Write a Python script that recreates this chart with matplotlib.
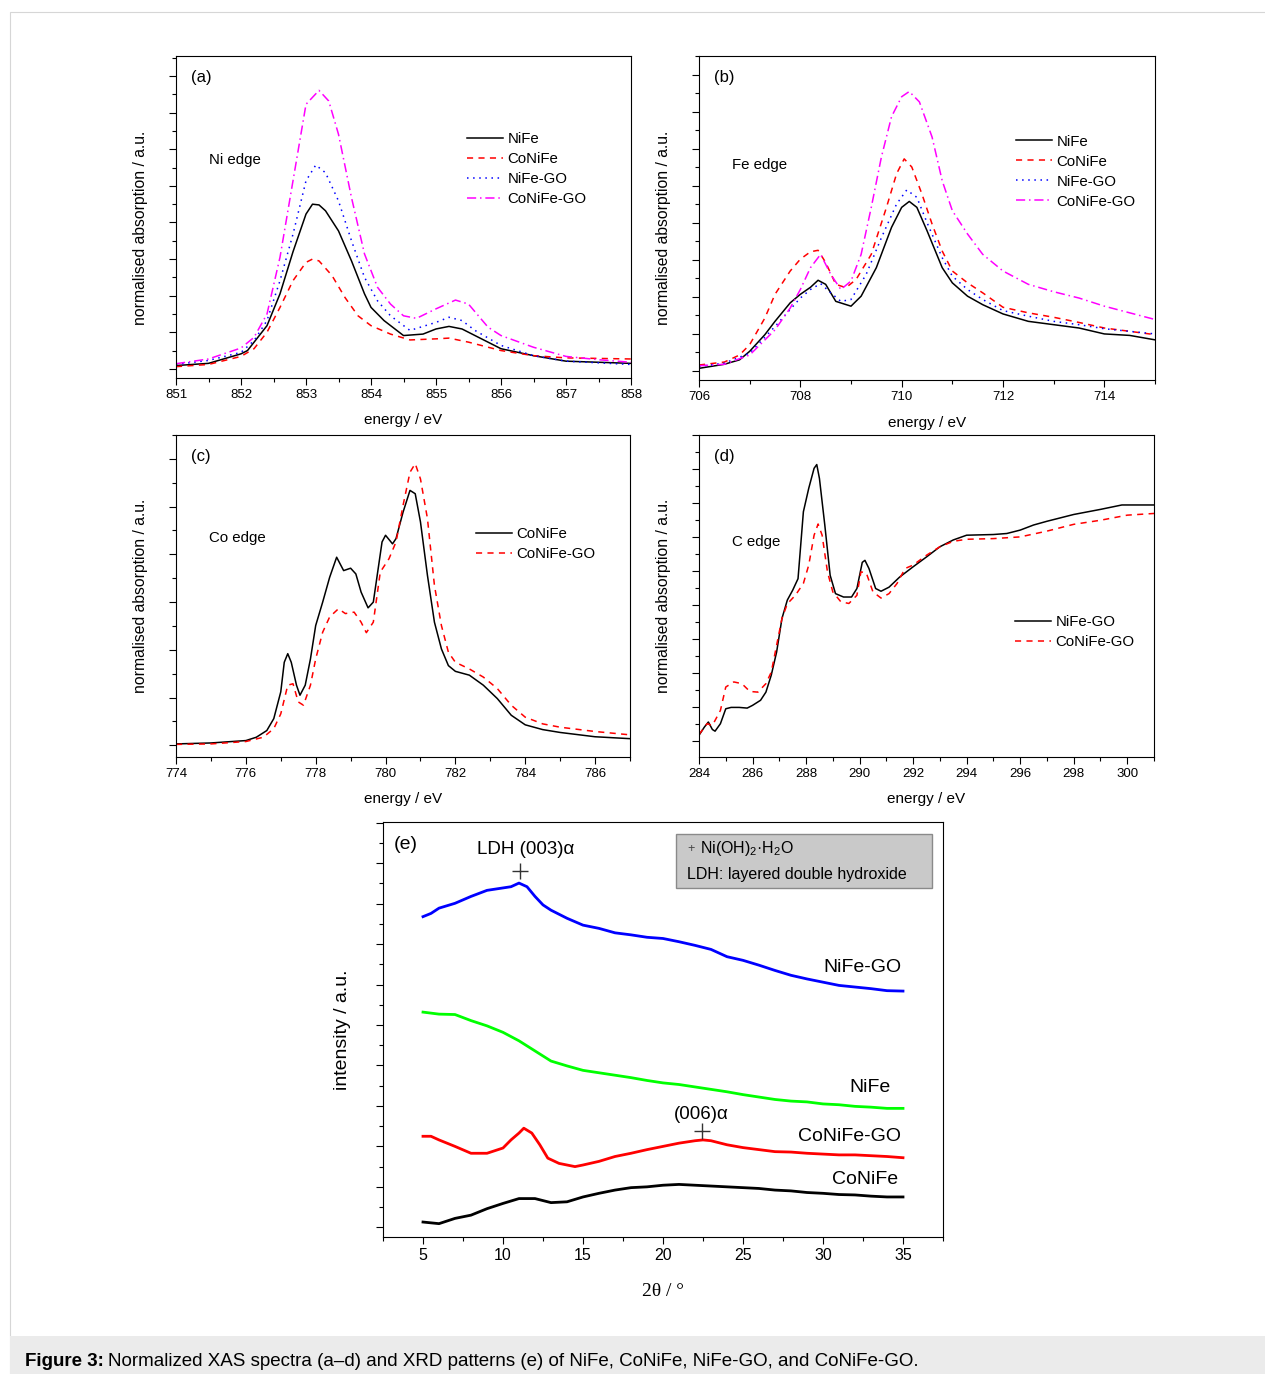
import matplotlib
matplotlib.use("Agg")
import matplotlib.pyplot as plt
from matplotlib.ticker import MultipleLocator, NullFormatter
from matplotlib.patches import Rectangle

plt.rcParams['font.family'] = ['Liberation Sans', 'DejaVu Sans']
plt.rcParams['mathtext.fontset'] = 'custom'
plt.rcParams['mathtext.rm'] = 'Liberation Sans'
plt.rcParams['mathtext.it'] = 'Liberation Sans:italic'

W, H = 1265, 1374

# ---------------- (a) Ni edge ----------------
ni_nife_x = [851, 851.5, 852, 852.1, 852.4, 852.6, 852.8, 853.0, 853.1, 853.2, 853.3, 853.5, 853.7,
             853.9, 854.0, 854.2, 854.5, 854.8, 855.0, 855.2, 855.4, 855.6, 856.0, 856.5, 857.0, 857.5, 858]
ni_nife_y = [0.09, 0.15, 0.41, 0.5, 1.18, 2.05, 3.2, 4.23, 4.5, 4.48, 4.32, 3.77, 2.95,
             2.05, 1.68, 1.32, 0.91, 0.95, 1.09, 1.16, 1.09, 0.91, 0.55, 0.36, 0.21, 0.18, 0.15]
ni_conife_x = [851, 851.5, 852, 852.2, 852.4, 852.6, 852.8, 853.0, 853.1, 853.2, 853.4, 853.6, 853.8,
               854.0, 854.3, 854.6, 855.0, 855.2, 855.5, 856.0, 856.5, 857, 858]
ni_conife_y = [0.06, 0.12, 0.34, 0.55, 1.0, 1.68, 2.41, 2.91, 3.0, 2.95, 2.55, 1.95, 1.45,
               1.18, 0.95, 0.79, 0.82, 0.84, 0.73, 0.5, 0.36, 0.3, 0.27]
ni_nifego_x = [851, 851.5, 852, 852.2, 852.4, 852.6, 852.8, 853.0, 853.15, 853.3, 853.5, 853.7, 853.9,
               854.1, 854.3, 854.6, 855.0, 855.2, 855.4, 855.6, 856.0, 856.5, 857.0, 858]
ni_nifego_y = [0.12, 0.23, 0.45, 0.77, 1.32, 2.41, 3.68, 5.14, 5.57, 5.36, 4.59, 3.5, 2.5,
               1.86, 1.45, 1.05, 1.27, 1.41, 1.32, 1.05, 0.64, 0.36, 0.21, 0.12]
ni_conifego_x = [851, 851.5, 852, 852.2, 852.4, 852.6, 852.8, 853.0, 853.2, 853.35, 853.5, 853.7, 853.9,
                 854.1, 854.3, 854.5, 854.7, 855.0, 855.3, 855.5, 855.8, 856.0, 856.5, 857.0, 857.5, 858]
ni_conifego_y = [0.14, 0.27, 0.57, 0.86, 1.5, 3.05, 5.14, 7.23, 7.61, 7.32, 6.41, 4.68, 3.14,
                 2.23, 1.77, 1.45, 1.38, 1.64, 1.88, 1.77, 1.14, 0.91, 0.59, 0.34, 0.25, 0.18]

# ---------------- (b) Fe edge ----------------
fe_nife_x = [706, 706.5, 706.8, 707.0, 707.3, 707.5, 707.8, 708.0, 708.2, 708.35, 708.5, 708.7, 709.0,
             709.2, 709.5, 709.8, 710.0, 710.15, 710.3, 710.5, 710.8, 711.0, 711.3, 711.6, 712.0, 712.5,
             713.0, 713.5, 714.0, 714.5, 715]
fe_nife_y = [0.07, 0.18, 0.3, 0.53, 0.98, 1.34, 1.84, 2.07, 2.26, 2.45, 2.34, 1.88, 1.75,
             2.02, 2.79, 3.88, 4.42, 4.58, 4.42, 3.79, 2.79, 2.38, 2.02, 1.79, 1.54, 1.34,
             1.25, 1.16, 1.0, 0.96, 0.84]
fe_conife_x = [706, 706.5, 706.8, 707.0, 707.3, 707.5, 707.8, 708.0, 708.2, 708.35, 708.5, 708.7, 708.9,
               709.1, 709.4, 709.7, 709.9, 710.05, 710.2, 710.4, 710.6, 710.8, 711.0, 711.3, 711.6,
               712.0, 712.5, 713.0, 713.5, 714.0, 715]
fe_conife_y = [0.16, 0.24, 0.43, 0.71, 1.43, 2.07, 2.7, 3.02, 3.22, 3.26, 2.93, 2.34, 2.25,
               2.47, 3.15, 4.42, 5.33, 5.73, 5.51, 4.78, 3.97, 3.24, 2.7, 2.38, 2.11,
               1.72, 1.57, 1.45, 1.31, 1.16, 0.98]
fe_nifego_x = [706, 706.5, 707.0, 707.5, 708.0, 708.2, 708.4, 708.6, 708.8, 709.0, 709.3, 709.6, 709.9,
               710.1, 710.3, 710.5, 710.8, 711.0, 711.3, 711.6, 712.0, 712.5, 713.0, 713.5, 714.0, 715]
fe_nifego_y = [0.12, 0.21, 0.48, 1.2, 1.97, 2.2, 2.36, 2.11, 1.88, 1.93, 2.61, 3.6, 4.51,
               4.89, 4.69, 4.01, 3.06, 2.56, 2.2, 1.93, 1.63, 1.48, 1.34, 1.25, 1.14, 1.0]
fe_conifego_x = [706, 706.5, 707.0, 707.5, 707.8, 708.0, 708.2, 708.4, 708.6, 708.8, 709.0, 709.2, 709.4,
                 709.6, 709.8, 710.0, 710.15, 710.35, 710.6, 710.8, 711.0, 711.3, 711.6, 712.0, 712.5,
                 713.0, 713.5, 714.0, 714.5, 715]
fe_conifego_y = [0.14, 0.18, 0.43, 1.11, 1.7, 2.2, 2.79, 3.15, 2.61, 2.2, 2.43, 3.15, 4.42,
                 5.78, 6.87, 7.41, 7.55, 7.27, 6.32, 5.14, 4.33, 3.7, 3.15, 2.7, 2.34,
                 2.14, 1.97, 1.75, 1.57, 1.39]

# ---------------- (c) Co edge ----------------
co_conife_x = [774, 775, 776, 776.3, 776.6, 776.8, 777.0, 777.1, 777.2, 777.3, 777.45, 777.55, 777.7,
               777.85, 778.0, 778.2, 778.4, 778.6, 778.8, 779.0, 779.15, 779.3, 779.5, 779.65, 779.9,
               780.0, 780.2, 780.3, 780.5, 780.7, 780.85, 781.0, 781.2, 781.4, 781.6, 781.8, 782.0,
               782.4, 782.8, 783.2, 783.6, 784.0, 784.5, 785.0, 786.0, 787.0]
co_conife_y = [0.03, 0.05, 0.1, 0.17, 0.31, 0.56, 1.12, 1.74, 1.92, 1.74, 1.26, 1.05, 1.26,
               1.81, 2.51, 3.0, 3.52, 3.94, 3.66, 3.71, 3.59, 3.21, 2.88, 3.0, 4.26,
               4.4, 4.22, 4.33, 4.88, 5.34, 5.27, 4.68, 3.56, 2.58, 2.02, 1.67, 1.55,
               1.47, 1.26, 0.98, 0.63, 0.43, 0.33, 0.27, 0.18, 0.14]
co_conifego_x = [774, 775, 776, 776.5, 776.8, 777.0, 777.2, 777.35, 777.5, 777.65, 777.85, 778.0, 778.2,
                 778.4, 778.65, 778.85, 779.1, 779.3, 779.45, 779.65, 779.85, 780.1, 780.3, 780.5, 780.7,
                 780.85, 781.0, 781.2, 781.4, 781.6, 781.8, 782.0, 782.4, 782.8, 783.2, 783.6, 784.0,
                 784.5, 785.0, 786.0, 787.0]
co_conifego_y = [0.02, 0.03, 0.08, 0.17, 0.35, 0.66, 1.26, 1.29, 0.91, 0.84, 1.26, 1.81, 2.37,
                 2.69, 2.86, 2.76, 2.79, 2.58, 2.36, 2.58, 3.63, 3.91, 4.26, 5.02, 5.72,
                 5.9, 5.58, 4.75, 3.35, 2.51, 1.95, 1.74, 1.6, 1.43, 1.19, 0.84, 0.59,
                 0.45, 0.38, 0.29, 0.22]

# ---------------- (d) C edge ----------------
c_nifego_x = [284.0, 284.2, 284.35, 284.5, 284.6, 284.8, 285.0, 285.2, 285.5, 285.8, 286.0, 286.3, 286.5,
              286.7, 286.9, 287.1, 287.3, 287.5, 287.7, 287.9, 288.1, 288.3, 288.4, 288.5, 288.7, 288.9,
              289.1, 289.4, 289.7, 289.9, 290.1, 290.2, 290.35, 290.6, 290.8, 291.1, 291.5, 292.0, 292.5,
              293.0, 293.5, 294.0, 295.0, 295.5, 296.0, 296.5, 297.0, 298.0, 299.0, 299.8, 301.0]
c_nifego_y = [0.16, 0.4, 0.55, 0.33, 0.28, 0.5, 0.94, 0.98, 0.98, 0.96, 1.04, 1.19, 1.43,
              1.93, 2.61, 3.6, 4.14, 4.43, 4.77, 6.74, 7.43, 8.02, 8.13, 7.72, 6.35, 4.87,
              4.33, 4.23, 4.23, 4.48, 5.25, 5.31, 5.07, 4.48, 4.4, 4.52, 4.82, 5.12, 5.41,
              5.71, 5.91, 6.05, 6.07, 6.1, 6.2, 6.35, 6.46, 6.66, 6.81, 6.94, 6.94]
c_conifego_x = [284.0, 284.3, 284.5, 284.8, 285.0, 285.3, 285.6, 285.9, 286.2, 286.5, 286.7, 286.9, 287.1,
                287.3, 287.6, 287.9, 288.1, 288.3, 288.45, 288.6, 288.8, 289.0, 289.3, 289.6, 289.9,
                290.05, 290.25, 290.5, 290.8, 291.1, 291.4, 291.7, 292.0, 292.5, 293.0, 293.5, 294.0,
                295.0, 296.0, 297.0, 298.0, 299.0, 300.0, 301.0]
c_conifego_y = [0.18, 0.5, 0.45, 0.89, 1.58, 1.73, 1.68, 1.45, 1.43, 1.68, 2.02, 2.81, 3.6,
                4.03, 4.28, 4.63, 5.17, 6.05, 6.38, 6.05, 4.97, 4.38, 4.09, 4.04, 4.28,
                4.97, 4.94, 4.38, 4.2, 4.33, 4.63, 5.07, 5.17, 5.46, 5.71, 5.87, 5.93,
                5.95, 6.0, 6.17, 6.37, 6.49, 6.64, 6.69]

# ---------------- (e) XRD ----------------
tt = [5, 5.5, 6, 7, 8, 9, 10, 10.5, 11, 11.5, 12, 12.5, 13, 14, 15, 16, 17, 18, 19, 20,
      21, 22, 23, 24, 25, 26, 27, 28, 29, 30, 31, 32, 33, 34, 35]
xrd_nifego = [7.68, 7.76, 7.89, 8.01, 8.18, 8.33, 8.39, 8.42, 8.51, 8.42, 8.18, 7.97, 7.84, 7.64, 7.47,
              7.39, 7.28, 7.23, 7.17, 7.14, 7.06, 6.97, 6.87, 6.69, 6.6, 6.48, 6.35, 6.23, 6.14, 6.06,
              5.98, 5.94, 5.9, 5.85, 5.84]
tt_nife = [5, 6, 7, 8, 9, 10, 11, 12, 13, 14, 15, 16, 17, 18, 19, 20, 21, 22, 23, 24, 25, 26, 27, 28,
           29, 30, 31, 32, 33, 34, 35]
xrd_nife = [5.32, 5.27, 5.26, 5.11, 4.98, 4.82, 4.61, 4.36, 4.11, 3.99, 3.88, 3.82, 3.76, 3.7, 3.63,
            3.57, 3.53, 3.47, 3.41, 3.35, 3.28, 3.22, 3.16, 3.12, 3.1, 3.05, 3.03, 2.99, 2.97, 2.94, 2.94]
tt_conifego = [5, 5.5, 6, 7, 8, 9, 10, 10.5, 11, 11.3, 11.8, 12.3, 12.8, 13.5, 14, 14.5, 15, 16, 17, 18,
               19, 20, 21, 22, 22.5, 23, 24, 25, 26, 27, 28, 29, 30, 31, 32, 33, 34, 35]
xrd_conifego = [2.25, 2.25, 2.16, 2.0, 1.83, 1.83, 1.96, 2.16, 2.33, 2.45, 2.33, 2.04, 1.71, 1.58, 1.54,
                1.5, 1.54, 1.63, 1.75, 1.83, 1.92, 2.0, 2.08, 2.14, 2.16, 2.14, 2.04, 1.97, 1.92, 1.87,
                1.86, 1.83, 1.81, 1.79, 1.79, 1.77, 1.75, 1.72]
xrd_conife = [0.13, 0.09, 0.22, 0.3, 0.46, 0.59, 0.71, 0.71, 0.61, 0.63, 0.75, 0.84, 0.92, 0.98, 1.0,
              1.04, 1.06, 1.04, 1.02, 1.0, 0.98, 0.96, 0.92, 0.9, 0.86, 0.84, 0.81, 0.8, 0.77, 0.75, 0.75]

ldh003 = (11.05, 8.81)
ldh006 = (22.46, 2.37)

RED, BLUE, MAG, GREEN = '#ff0000', '#0000ff', '#ff00ff', '#00ff00'
STY = {
    'solid': dict(color='black', lw=1.1, linestyle='-'),
    'dash': dict(color=RED, lw=1.1, linestyle=(0, (4, 3.5))),
    'dot': dict(color=BLUE, lw=1.1, linestyle=(0, (1, 3))),
    'dashdot': dict(color=MAG, lw=1.1, linestyle=(0, (6, 2.5, 1, 2.5))),
}


def rect(l, t, r, b):
    return [l / W, 1 - b / H, (r - l) / W, (b - t) / H]


def style_axes(ax, xmaj, xmin, ymaj, ymin, tick_fs=9.5):
    ax.xaxis.set_major_locator(MultipleLocator(xmaj))
    ax.xaxis.set_minor_locator(MultipleLocator(xmin))
    ax.yaxis.set_major_locator(MultipleLocator(ymaj))
    ax.yaxis.set_minor_locator(MultipleLocator(ymin))
    ax.yaxis.set_major_formatter(NullFormatter())
    ax.tick_params(which='major', direction='out', length=5, width=0.8, labelsize=tick_fs, pad=3)
    ax.tick_params(which='minor', direction='out', length=3, width=0.8)
    for s in ax.spines.values():
        s.set_linewidth(0.8)


def xas_panel(ax, letter, edge, xlim, ylim, xmaj, xmin, ylab_y, leg_xy):
    ax.set_xlim(*xlim)
    ax.set_ylim(*ylim)
    style_axes(ax, xmaj, xmin, 1, 0.5)
    ax.set_xlabel('energy / eV', fontsize=11)
    ax.xaxis.set_label_coords(0.5, -0.11)
    ax.set_ylabel('normalised absorption / a.u.', fontsize=11.3)
    ax.yaxis.set_label_coords(-0.062, ylab_y)
    ax.text(0.033, 0.933, letter, transform=ax.transAxes, fontsize=12, va='center')
    ax.text(0.072, edge[1], edge[0], transform=ax.transAxes, fontsize=10.8, va='center')
    ax.legend(loc='upper left', bbox_to_anchor=leg_xy, frameon=False, fontsize=10.8,
              handlelength=2.4, handletextpad=0.3, labelspacing=0.4, borderpad=0, borderaxespad=0)


fig = plt.figure(figsize=(W / 100, H / 100), dpi=100)

# frame and caption band
fig.patches.append(Rectangle((10 / W, 0), 1, 1 - 12 / H, transform=fig.transFigure,
                             facecolor='white', edgecolor='#d6d6d6', lw=0.8, zorder=-5))
fig.patches.append(Rectangle((10 / W, 0), 1, (H - 1336) / H, transform=fig.transFigure,
                             facecolor='#ebebeb', edgecolor='none', zorder=-4))

# (a)
ax = fig.add_axes(rect(176, 56, 631, 378))
ax.plot(ni_nife_x, ni_nife_y, label='NiFe', **STY['solid'])
ax.plot(ni_conife_x, ni_conife_y, label='CoNiFe', **STY['dash'])
ax.plot(ni_nifego_x, ni_nifego_y, label='NiFe-GO', **STY['dot'])
ax.plot(ni_conifego_x, ni_conifego_y, label='CoNiFe-GO', **STY['dashdot'])
xas_panel(ax, '(a)', ('Ni edge', 0.677), (851, 858), (-0.25, 8.55), 1, 0.5, 0.466, (0.64, 0.763))

# (b)
ax = fig.add_axes(rect(699, 56, 1155, 380))
ax.plot(fe_nife_x, fe_nife_y, label='NiFe', **STY['solid'])
ax.plot(fe_conife_x, fe_conife_y, label='CoNiFe', **STY['dash'])
ax.plot(fe_nifego_x, fe_nifego_y, label='NiFe-GO', **STY['dot'])
ax.plot(fe_conifego_x, fe_conifego_y, label='CoNiFe-GO', **STY['dashdot'])
xas_panel(ax, '(b)', ('Fe edge', 0.664), (706, 715), (-0.245, 8.51), 2, 1, 0.47, (0.695, 0.757))

# (c)
ax = fig.add_axes(rect(176, 435, 630, 757))
ax.plot(co_conife_x, co_conife_y, label='CoNiFe', **STY['solid'])
ax.plot(co_conifego_x, co_conifego_y, label='CoNiFe-GO', **STY['dash'])
xas_panel(ax, '(c)', ('Co edge', 0.68), (774, 787), (-0.244, 6.5), 2, 1, 0.5, (0.66, 0.715))

# (d)
ax = fig.add_axes(rect(699, 435, 1154, 757))
ax.plot(c_nifego_x, c_nifego_y, label='NiFe-GO', **STY['solid'])
ax.plot(c_conifego_x, c_conifego_y, label='CoNiFe-GO', **STY['dash'])
xas_panel(ax, '(d)', ('C edge', 0.667), (284, 301), (-0.48, 9.0), 2, 1, 0.5, (0.695, 0.44))

# (e)
ax = fig.add_axes(rect(383, 822, 943, 1237))
ax.plot(tt, xrd_nifego, color=BLUE, lw=2.0)
ax.plot(tt_nife, xrd_nife, color=GREEN, lw=2.0)
ax.plot(tt_conifego, xrd_conifego, color=RED, lw=2.0)
ax.plot(tt_nife, xrd_conife, color='black', lw=2.0)
ax.set_xlim(2.5, 37.5)
ax.set_ylim(-0.24, 10.02)
style_axes(ax, 5, 2.5, 1, 0.5, tick_fs=11.5)
ax.set_xlabel('2θ / °', fontsize=14, family=['Liberation Serif', 'DejaVu Serif'])
ax.xaxis.set_label_coords(0.5, -0.11)
ax.set_ylabel('intensity / a.u.', fontsize=14)
ax.yaxis.set_label_coords(-0.057, 0.5)
ax.plot(*ldh003, marker='+', color='#333333', ms=11, mew=1.0)
ax.plot(*ldh006, marker='+', color='#333333', ms=11, mew=1.0)
ax.text(3.9, 9.46, '(e)', fontsize=14, va='center', ha='center')
ax.text(11.4, 9.34, 'LDH (003)α', fontsize=13.5, va='center', ha='center')
ax.text(22.4, 2.8, '(006)α', fontsize=13.5, va='center', ha='center')
ax.text(34.9, 6.42, 'NiFe-GO', fontsize=14, va='center', ha='right')
ax.text(34.2, 3.45, 'NiFe', fontsize=14, va='center', ha='right')
ax.text(34.9, 2.25, 'CoNiFe-GO', fontsize=14, va='center', ha='right')
ax.text(34.7, 1.17, 'CoNiFe', fontsize=14, va='center', ha='right')
ax.add_patch(Rectangle((0.523, 0.841), 0.457, 0.129, transform=ax.transAxes,
                       facecolor='#c9c9c9', edgecolor='#8a8a8a', lw=1.0))
ax.text(0.543, 0.935, '+', transform=ax.transAxes, fontsize=9, va='center', color='#444444')
ax.text(0.566, 0.935, 'Ni(OH)$_2$·H$_2$O', transform=ax.transAxes, fontsize=11.5, va='center')
ax.text(0.543, 0.874, 'LDH: layered double hydroxide', transform=ax.transAxes, fontsize=11.5,
        va='center')

# caption
cap_y = 1 - 1361 / H
t1 = fig.text(25 / W, cap_y, 'Figure 3:', fontsize=13.5, fontweight='bold', va='center')
r = fig.canvas.get_renderer()
bb = t1.get_window_extent(renderer=r)
fig.text(bb.x1 / W + 4 / W, cap_y,
         'Normalized XAS spectra (a–d) and XRD patterns (e) of NiFe, CoNiFe, NiFe-GO, and CoNiFe-GO.',
         fontsize=13.5, va='center')

fig.savefig('out.png', dpi=100)
